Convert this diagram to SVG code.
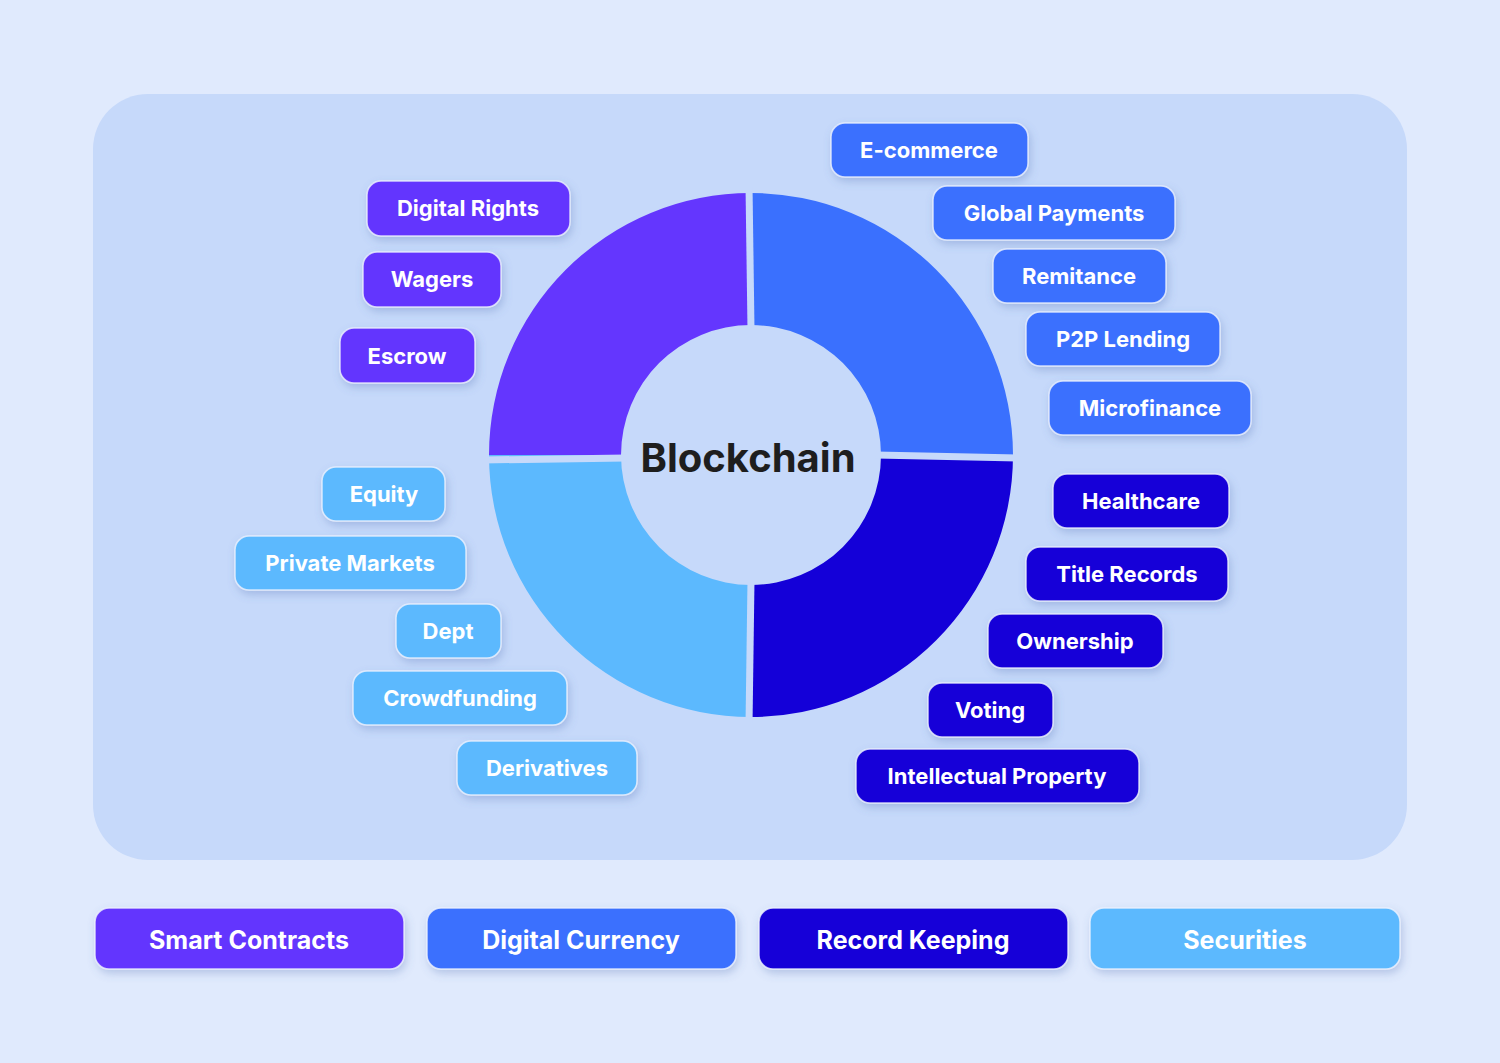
<svg xmlns="http://www.w3.org/2000/svg" width="1500" height="1063" viewBox="0 0 1500 1063">
<defs>
<filter id="sh" x="-20%" y="-40%" width="140%" height="180%"><feDropShadow dx="2" dy="4" stdDeviation="4" flood-color="#5070b0" flood-opacity="0.3"/></filter>
<style>
.l rect{stroke:#eef3ff;stroke-opacity:0.8;stroke-width:1.5;filter:url(#sh)}
.l text{font-family:Inter,"Noto Sans",sans-serif;font-weight:700;font-size:22px;fill:#fff;text-anchor:middle;dominant-baseline:central}
.b text{font-size:25px}
.p rect{fill:#6436fe}.u rect{fill:#3a70fe}.d rect{fill:#1400d8}.c rect{fill:#5cb9fe}
</style>
</defs>
<rect width="1500" height="1063" fill="#e0eafd"/>
<rect x="93" y="94" width="1314" height="766" rx="55" fill="#c6d9fa"/>
<g id="donut">
<path d="M751 193 A262 262 0 0 1 1013 455 L881 455 A130 130 0 0 0 751 325 Z" fill="#3a70fe"/>
<path d="M1013 455 A262 262 0 0 1 751 717 L751 585 A130 130 0 0 0 881 455 Z" fill="#1400d8"/>
<path d="M751 717 A262 262 0 0 1 489 455 L621 455 A130 130 0 0 0 751 585 Z" fill="#5cb9fe"/>
<path d="M489 455 A262 262 0 0 1 751 193 L751 325 A130 130 0 0 0 621 455 Z" fill="#6436fe"/>
<g stroke="#c6d9fa" stroke-width="7"><line x1="749" y1="185" x2="751" y2="330"/><line x1="751" y1="580" x2="749" y2="725"/><line x1="482" y1="460" x2="626" y2="458"/><line x1="876" y1="455" x2="1020" y2="458"/></g>
<text x="748" y="457" font-family="Inter,'Noto Sans',sans-serif" font-weight="700" font-size="40" fill="#1e1e1e" text-anchor="middle" dominant-baseline="central">Blockchain</text>
</g>
<g id="connectors"/>
<g id="n1" class="l u"><rect x="831" y="123" width="197" height="54" rx="14"/><text x="929" y="150">E-commerce</text></g>
<g id="n2" class="l u"><rect x="933" y="186" width="242" height="54" rx="14"/><text x="1054" y="213">Global Payments</text></g>
<g id="n3" class="l u"><rect x="993" y="249" width="173" height="54" rx="14"/><text x="1079" y="276">Remitance</text></g>
<g id="n4" class="l u"><rect x="1026" y="312" width="194" height="54" rx="14"/><text x="1123" y="339">P2P Lending</text></g>
<g id="n5" class="l u"><rect x="1049" y="381" width="202" height="54" rx="14"/><text x="1150" y="408">Microfinance</text></g>
<g id="n6" class="l p"><rect x="367" y="181" width="203" height="55" rx="14"/><text x="468" y="208">Digital Rights</text></g>
<g id="n7" class="l p"><rect x="363" y="252" width="138" height="55" rx="14"/><text x="432" y="279">Wagers</text></g>
<g id="n8" class="l p"><rect x="340" y="328" width="135" height="55" rx="14"/><text x="407" y="356">Escrow</text></g>
<g id="n9" class="l c"><rect x="322" y="467" width="123" height="54" rx="14"/><text x="384" y="494">Equity</text></g>
<g id="n10" class="l c"><rect x="235" y="536" width="231" height="54" rx="14"/><text x="350" y="563">Private Markets</text></g>
<g id="n11" class="l c"><rect x="396" y="604" width="105" height="54" rx="14"/><text x="448" y="631">Dept</text></g>
<g id="n12" class="l c"><rect x="353" y="671" width="214" height="54" rx="14"/><text x="460" y="698">Crowdfunding</text></g>
<g id="n13" class="l c"><rect x="457" y="741" width="180" height="54" rx="14"/><text x="547" y="768">Derivatives</text></g>
<g id="n14" class="l d"><rect x="1053" y="474" width="176" height="54" rx="14"/><text x="1141" y="501">Healthcare</text></g>
<g id="n15" class="l d"><rect x="1026" y="547" width="202" height="54" rx="14"/><text x="1127" y="574">Title Records</text></g>
<g id="n16" class="l d"><rect x="988" y="614" width="175" height="54" rx="14"/><text x="1075" y="641">Ownership</text></g>
<g id="n17" class="l d"><rect x="928" y="683" width="125" height="54" rx="14"/><text x="990" y="710">Voting</text></g>
<g id="n18" class="l d"><rect x="856" y="749" width="283" height="54" rx="14"/><text x="997" y="776">Intellectual Property</text></g>
<g id="b1" class="l p b"><rect x="95" y="908" width="309" height="61" rx="14"/><text x="249" y="940">Smart Contracts</text></g>
<g id="b2" class="l u b"><rect x="427" y="908" width="309" height="61" rx="14"/><text x="581" y="940">Digital Currency</text></g>
<g id="b3" class="l d b"><rect x="759" y="908" width="309" height="61" rx="14"/><text x="913" y="940">Record Keeping</text></g>
<g id="b4" class="l c b"><rect x="1090" y="908" width="310" height="61" rx="14"/><text x="1245" y="940">Securities</text></g>
</svg>
